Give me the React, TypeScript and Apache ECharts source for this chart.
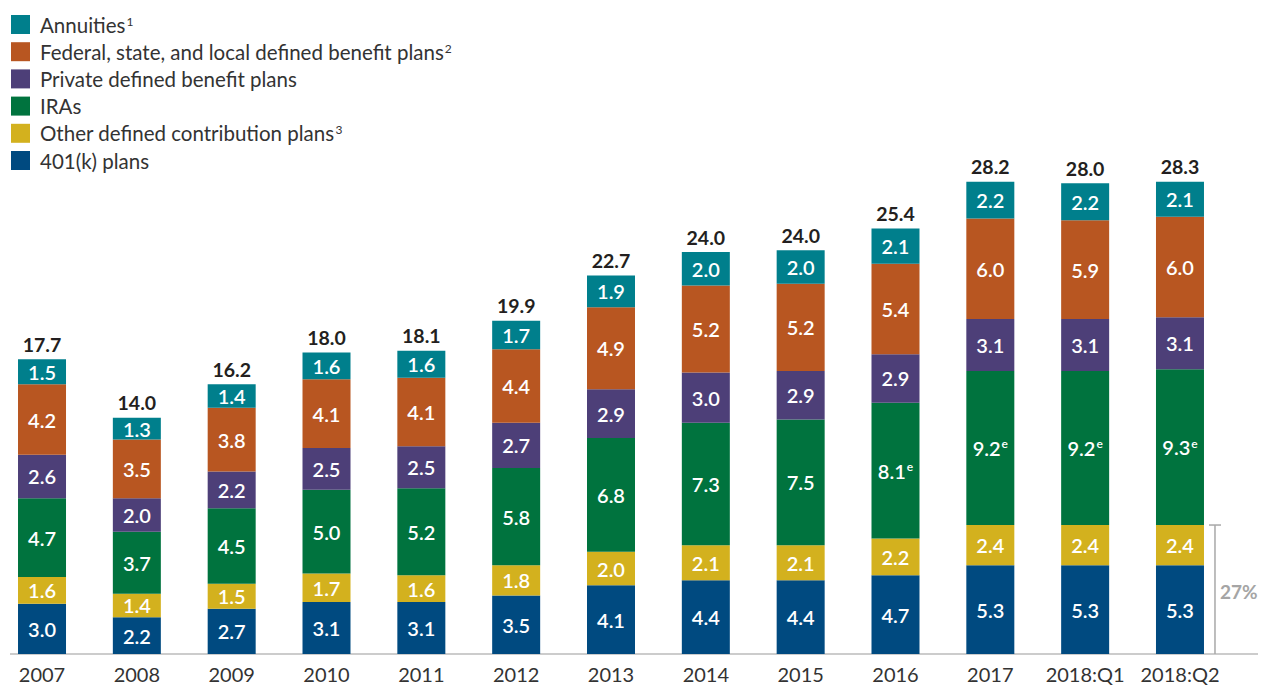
import React, { useEffect, useRef } from "react";
import * as echarts from "echarts";

const categories = ["2007", "2008", "2009", "2010", "2011", "2012", "2013", "2014", "2015", "2016", "2017", "2018:Q1", "2018:Q2"];
const plans401k = [3.0, 2.2, 2.7, 3.1, 3.1, 3.5, 4.1, 4.4, 4.4, 4.7, 5.3, 5.3, 5.3];
const otherDC = [1.6, 1.4, 1.5, 1.7, 1.6, 1.8, 2.0, 2.1, 2.1, 2.2, 2.4, 2.4, 2.4];
const iras = [4.7, 3.7, 4.5, 5.0, 5.2, 5.8, 6.8, 7.3, 7.5, 8.1, 9.2, 9.2, 9.3];
const privateDB = [2.6, 2.0, 2.2, 2.5, 2.5, 2.7, 2.9, 3.0, 2.9, 2.9, 3.1, 3.1, 3.1];
const govDB = [4.2, 3.5, 3.8, 4.1, 4.1, 4.4, 4.9, 5.2, 5.2, 5.4, 6.0, 5.9, 6.0];
const annuities = [1.5, 1.3, 1.4, 1.6, 1.6, 1.7, 1.9, 2.0, 2.0, 2.1, 2.2, 2.2, 2.1];
const totals = [17.7, 14.0, 16.2, 18.0, 18.1, 19.9, 22.7, 24.0, 24.0, 25.4, 28.2, 28.0, 28.3];
const iraEstimated = [false, false, false, false, false, false, false, false, false, true, true, true, true];
const legendOrder = [
  "Annuities",
  "Federal, state, and local defined benefit plans",
  "Private defined benefit plans",
  "IRAs",
  "Other defined contribution plans",
  "401(k) plans",
];
const legendNotes: Record<string, string> = {
  Annuities: "1",
  "Federal, state, and local defined benefit plans": "2",
  "Other defined contribution plans": "3",
};
const shareLabel = "27%";

const FONT = "Lato";
const OFFSET = 6; // chart container is shifted left by this many pixels
const COLORS: Record<string, string> = {
  "401(k) plans": "#004A80",
  "Other defined contribution plans": "#D3B11E",
  IRAs: "#00733E",
  "Private defined benefit plans": "#4D3F78",
  "Federal, state, and local defined benefit plans": "#B85621",
  Annuities: "#007F8C",
};

export default function App() {
  const ref = useRef<HTMLDivElement>(null);
  useEffect(() => {
    if (!ref.current) return;
    const chart = echarts.init(ref.current, undefined, { renderer: "svg" });
    const segLabel = {
      show: true,
      position: "inside",
      color: "#fff",
      fontSize: 20,
      fontWeight: 600,
      fontFamily: FONT,
      formatter: (p: any) => p.value.toFixed(1),
    };
    const mk = (name: string, data: number[], extra: any = {}) => ({
      type: "bar",
      name,
      stack: "total",
      data,
      barWidth: 48,
      itemStyle: { color: COLORS[name] },
      label: { ...segLabel, ...(extra.label || {}) },
    });
    const series: any[] = [
      mk("401(k) plans", plans401k),
      mk("Other defined contribution plans", otherDC),
      mk("IRAs", iras, {
        label: {
          formatter: (p: any) =>
            iraEstimated[p.dataIndex] ? `${p.value.toFixed(1)}{sup|e}` : p.value.toFixed(1),
          rich: {
            sup: { fontSize: 12, color: "#fff", fontWeight: 600, fontFamily: FONT, verticalAlign: "top", padding: [0, 0, 8, 1] },
          },
        },
      }),
      mk("Private defined benefit plans", privateDB),
      mk("Federal, state, and local defined benefit plans", govDB),
      mk("Annuities", annuities),
      {
        type: "bar",
        name: "Total",
        stack: "total",
        data: categories.map(() => 0),
        barWidth: 48,
        itemStyle: { color: "transparent" },
        label: {
          show: true,
          position: "top",
          distance: 5,
          color: "#231F20",
          fontSize: 19.5,
          fontWeight: "bold",
          fontFamily: FONT,
          formatter: (p: any) => totals[p.dataIndex].toFixed(1),
        },
      },
    ];
    chart.setOption({
      animation: false,
      textStyle: { fontFamily: FONT },
      grid: { left: 0.6, right: 34.6, top: 151.5, bottom: 33 },
      legend: {
        data: legendOrder,
        orient: "vertical",
        left: 11 + OFFSET,
        top: 14,
        padding: 0,
        itemWidth: 19,
        itemHeight: 19,
        itemGap: 6.2,
        icon: "rect",
        selectedMode: false,
        formatter: (name: string) => (legendNotes[name] ? `${name}{sup|${legendNotes[name]}}` : name),
        textStyle: {
          fontSize: 20.5,
          lineHeight: 19,
          color: "#333",
          fontFamily: FONT,
          padding: [0, 0, 0, 5],
          rich: {
            sup: { fontSize: 12, lineHeight: 19, color: "#333", fontFamily: FONT, verticalAlign: "top", padding: [0, 0, 0, 1] },
          },
        },
      },
      xAxis: {
        type: "category",
        data: categories,
        axisLine: { show: false },
        axisTick: { show: false },
        axisLabel: { interval: 0, fontSize: 20, color: "#333", fontFamily: FONT, margin: 10 },
      },
      yAxis: { type: "value", min: 0, max: 30, show: false },
      series,
    });

    const last = categories.length - 1;
    const top = chart.convertToPixel({ seriesIndex: 0 }, [last, plans401k[last] + otherDC[last]]) as number[];
    const base = chart.convertToPixel({ seriesIndex: 0 }, [last, 0]) as number[];
    const bx = base[0] + 35;
    chart.setOption({
      graphic: [
        { type: "line", shape: { x1: 10 + OFFSET, y1: base[1], x2: 1258 + OFFSET, y2: base[1] }, style: { stroke: "#9A9A9A", lineWidth: 1.2 } },
        { type: "line", shape: { x1: bx, y1: top[1], x2: bx, y2: base[1] }, style: { stroke: "#A8A8A8", lineWidth: 1.5 } },
        { type: "line", shape: { x1: bx - 6, y1: top[1], x2: bx + 6, y2: top[1] }, style: { stroke: "#A8A8A8", lineWidth: 1.5 } },
        {
          type: "text",
          x: bx + 5,
          y: (top[1] + base[1]) / 2 + 2,
          style: { text: shareLabel, fill: "#A5A5A5", font: `bold 19px ${FONT}`, textVerticalAlign: "middle" },
        },
      ],
    });
    return () => chart.dispose();
  }, []);
  return (
    <div
      ref={ref}
      style={{ position: "absolute", left: -OFFSET, top: 0, width: 1262 + OFFSET, height: 687 }}
    />
  );
}
